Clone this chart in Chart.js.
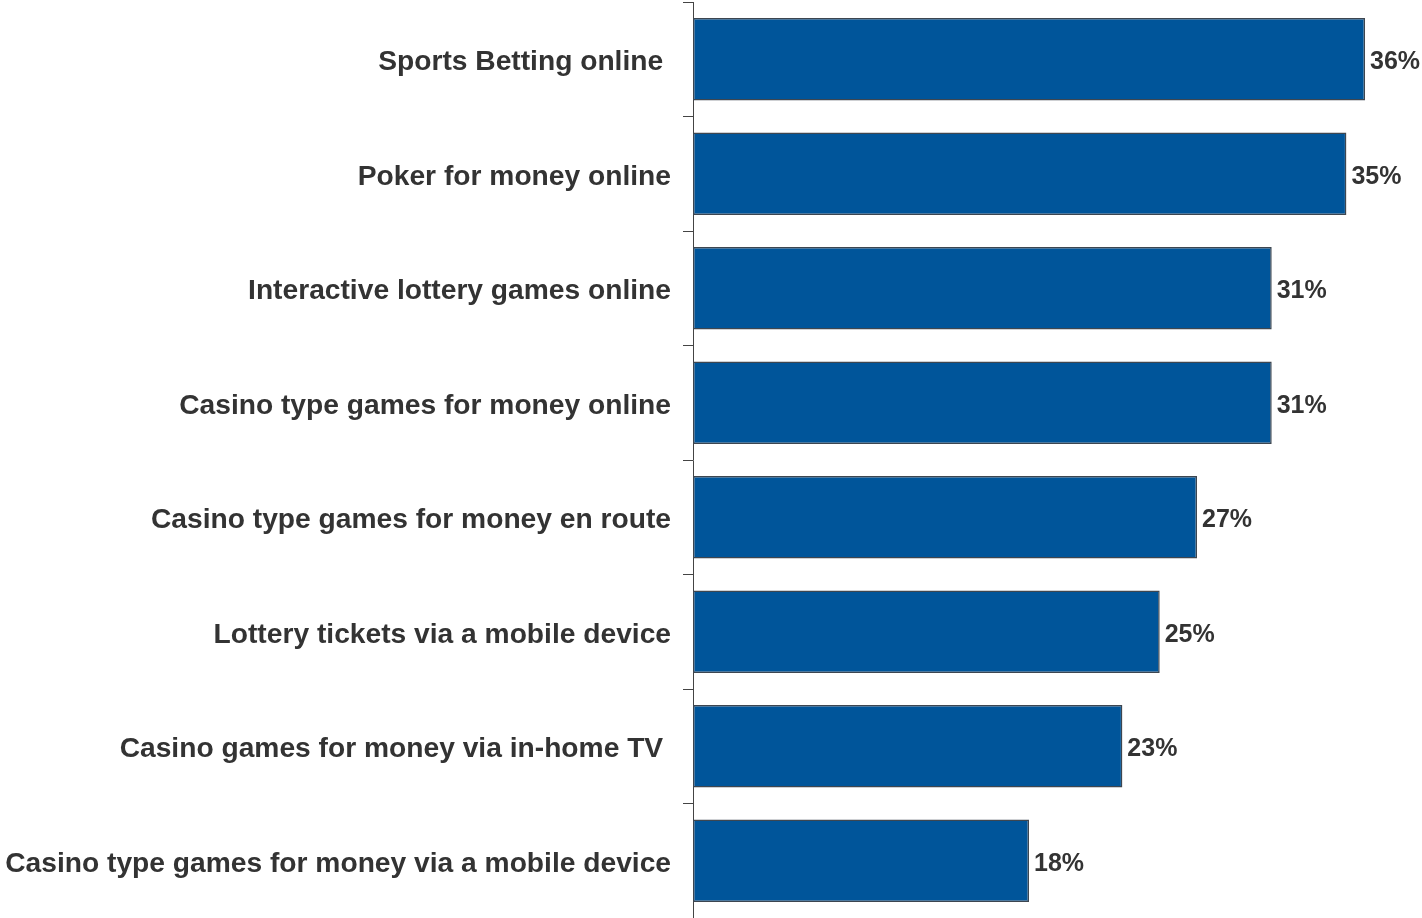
<!DOCTYPE html>
<html>
<head>
<meta charset="utf-8">
<script src="https://cdn.jsdelivr.net/npm/chart.js@4"></script>
<style>
  html, body { margin: 0; padding: 0; background: #fff; }
  #wrap { width: 1422px; height: 918px; position: relative; }
</style>
</head>
<body>
<div id="wrap"><canvas id="chart"></canvas></div>
<script>
  // ── Data ──────────────────────────────────────────
  const categories = [
    'Sports Betting online ',
    'Poker for money online',
    'Interactive lottery games online',
    'Casino type games for money online',
    'Casino type games for money en route',
    'Lottery tickets via a mobile device',
    'Casino games for money via in-home TV ',
    'Casino type games for money via a mobile device'
  ];
  const shares = [36, 35, 31, 31, 27, 25, 23, 18];

  const BAR = '#00559A';
  const INK = '#333333';

  // value labels to the right of each bar
  const valueLabels = {
    id: 'valueLabels',
    afterDatasetsDraw(chart) {
      const ctx = chart.ctx;
      const meta = chart.getDatasetMeta(0);
      ctx.save();
      ctx.font = 'bold 25px "Liberation Sans", Arial, sans-serif';
      ctx.fillStyle = INK;
      ctx.textAlign = 'left';
      ctx.textBaseline = 'middle';
      meta.data.forEach((bar, i) => {
        ctx.fillText(shares[i] + '%', bar.x + 5, bar.y + 3);
      });
      ctx.restore();
    }
  };

  new Chart(document.getElementById('chart').getContext('2d'), {
    type: 'bar',
    data: {
      labels: categories,
      datasets: [{
        data: shares,
        backgroundColor: BAR,
        borderColor: '#3d4650',
        borderWidth: 1.5,
        borderSkipped: false,
        barPercentage: 0.72,
        categoryPercentage: 1
      }]
    },
    options: {
      indexAxis: 'y',
      responsive: true, maintainAspectRatio: false, animation: false,
      layout: { padding: { top: 2, right: 0, bottom: 0, left: 0 } },
      plugins: { legend: { display: false }, tooltip: { enabled: false } },
      scales: {
        x: { display: false, min: 0, max: 39.05 },
        y: {
          afterFit(scale) {
            scale.width = 693;
            scale.paddingTop = 0;
            scale.paddingBottom = 0;
          },
          grid: { offset: true, drawOnChartArea: false, drawTicks: true, tickLength: 10, color: '#444', lineWidth: 1 },
          border: { display: true, color: '#444', width: 1 },
          ticks: {
            padding: 12, labelOffset: 3, color: INK, autoSkip: false,
            font: { family: '"Liberation Sans", Arial, sans-serif', size: 28.2, weight: 'bold' }
          }
        }
      }
    },
    plugins: [valueLabels]
  });
</script>
</body>
</html>
